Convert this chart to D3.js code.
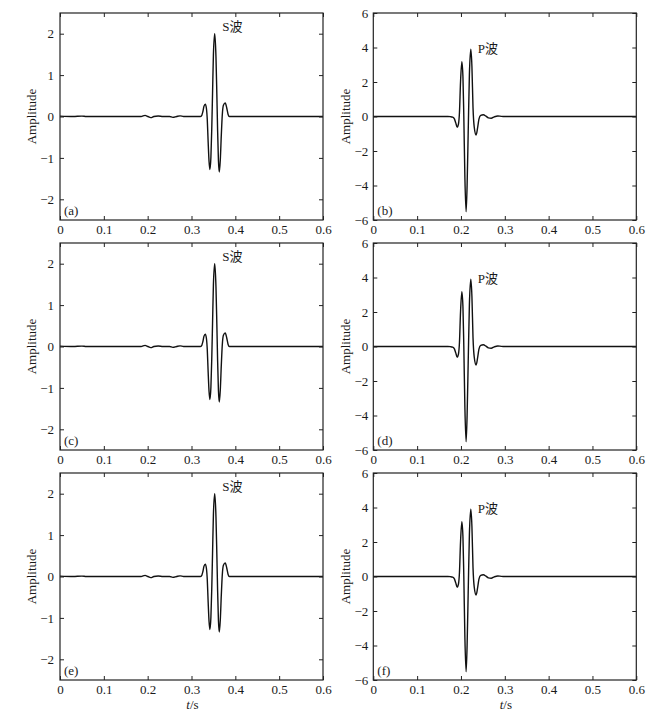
<!DOCTYPE html>
<html>
<head>
<meta charset="utf-8">
<script src="https://cdn.jsdelivr.net/npm/d3@7"></script>
<style>
  html, body { margin: 0; padding: 0; background: #ffffff; }
  svg { display: block; }
  text { font-family: "Liberation Serif", "Times New Roman", "Noto Sans CJK SC", serif; fill: #1a1a1a; }
</style>
</head>
<body>
<div id="chart"></div>
<script>
// ---- data ----
const xTicks = [0, 0.1, 0.2, 0.3, 0.4, 0.5, 0.6];
const sTicks = [-2, -1, 0, 1, 2];
const pTicks = [-6, -4, -2, 0, 2, 4, 6];
const panelLabels = ["(a)", "(b)", "(c)", "(d)", "(e)", "(f)"];
const waveNames = ["S波", "P波"];

// S-wave trace: time (s)
const sTime = [0, 0.03, 0.05, 0.06, 0.09, 0.15, 0.185, 0.194, 0.2005, 0.207, 0.214, 0.224, 0.235, 0.25, 0.2575, 0.266, 0.274, 0.282, 0.30, 0.316,
  0.320, 0.3235, 0.3260, 0.3285, 0.3315, 0.3340, 0.3360, 0.3380, 0.3400, 0.3420, 0.3443, 0.3462, 0.3480, 0.3500, 0.3530,
  0.3558, 0.3578, 0.3596, 0.3614, 0.3634, 0.3657, 0.3680, 0.3703, 0.3728, 0.3770, 0.3805, 0.3835, 0.3865, 0.390, 0.42, 0.5, 0.6];
// S-wave trace: amplitude
const sAmp = [0.01, 0.0, 0.01, 0.0, 0.0, 0.0, 0.0, 0.028, 0.0, -0.027, 0.0, 0.012, 0.0, 0.0, -0.02, 0.0, 0.015, 0.0, 0.0, 0.0,
  0.0, 0.03, 0.12, 0.25, 0.30, 0.20, -0.08, -0.62, -1.08, -1.28, -0.98, -0.30, 0.55, 1.50, 2.0,
  1.45, 0.55, -0.35, -1.05, -1.34, -1.05, -0.45, 0.05, 0.27, 0.33, 0.20, 0.05, 0.0, 0.0, 0.0, 0.0, 0.0];

// P-wave trace: time (s)
const pTime = [0, 0.1, 0.170, 0.176, 0.181, 0.1850, 0.1882, 0.1915, 0.1942, 0.1965, 0.1990, 0.2020, 0.2045, 0.2065, 0.2090, 0.2117,
  0.2140, 0.2165, 0.2192, 0.2224, 0.2250, 0.2275, 0.2302, 0.2346, 0.2380, 0.2410, 0.2450, 0.2510, 0.2570, 0.2625, 0.2690,
  0.2760, 0.2840, 0.2920, 0.300, 0.4, 0.6];
// P-wave trace: amplitude
const pAmp = [0, 0, 0, -0.01, -0.04, -0.14, -0.38, -0.62, -0.45, 0.2, 2.0, 3.18, 2.3, 0.0, -3.6, -5.52,
  -4.0, -0.9, 2.4, 3.9, 2.9, 0.5, -0.6, -1.07, -0.65, -0.15, 0.07, 0.1, 0.02, -0.08, -0.1,
  -0.02, 0.03, 0.01, 0, 0, 0];

// ---- layout ----
const W = 667, H = 713;
const colX = [60, 373.3];
const rowY = [13, 243, 473];
const pw = 263, ph = 207;

const svg = d3.select("#chart").append("svg").attr("width", W).attr("height", H);

const x = d3.scaleLinear().domain([0, 0.6]);
const yS = d3.scaleLinear().domain([-2.5, 2.5]);
const yP = d3.scaleLinear().domain([-6, 6]);

const fmtX = d => d === 0 ? "0" : d3.format(".1f")(d);

function drawPanel(ci, ri, idx) {
  const isS = ci === 0;
  const px = colX[ci], py = rowY[ri];
  const xs = x.copy().range([px, px + pw]);
  const ys = (isS ? yS : yP).copy().range([py + ph, py]);
  const yt = isS ? sTicks : pTicks;
  const g = svg.append("g");
  const tl = 4;

  // data line
  const times = isS ? sTime : pTime;
  const amps = isS ? sAmp : pAmp;
  const pts = times.map((t, i) => [t, amps[i]]);
  const line = d3.line().x(d => xs(d[0])).y(d => ys(d[1])).curve(d3.curveMonotoneX);
  g.append("path").datum(pts).attr("d", line)
    .attr("fill", "none").attr("stroke", "#111").attr("stroke-width", 1.4).attr("stroke-linejoin", "round");

  // axes with inward ticks on all sides
  const axB = d3.axisBottom(xs).tickValues(xTicks).tickSizeInner(-tl).tickSizeOuter(0).tickFormat(fmtX).tickPadding(5);
  const axT = d3.axisTop(xs).tickValues(xTicks).tickSizeInner(-tl).tickSizeOuter(0).tickFormat("");
  const axL = d3.axisLeft(ys).tickValues(yt).tickSizeInner(-tl).tickSizeOuter(0).tickFormat(d3.format("d")).tickPadding(isS ? 6 : 5);
  const axR = d3.axisRight(ys).tickValues(yt).tickSizeInner(-tl).tickSizeOuter(0).tickFormat("");

  const styleAxis = sel => {
    sel.select(".domain").remove();
    sel.selectAll("line").attr("stroke", "#222").attr("stroke-width", 1);
    sel.selectAll("text").attr("font-size", 13).style("font-family", '"Liberation Serif", serif').attr("fill", "#1a1a1a");
  };
  g.append("g").attr("transform", `translate(0,${py + ph})`).call(axB).call(styleAxis);
  g.append("g").attr("transform", `translate(0,${py})`).call(axT).call(styleAxis);
  g.append("g").attr("transform", `translate(${px},0)`).call(axL).call(styleAxis);
  g.append("g").attr("transform", `translate(${px + pw},0)`).call(axR).call(styleAxis);

  // frame
  g.append("rect").attr("x", px).attr("y", py).attr("width", pw).attr("height", ph)
    .attr("fill", "none").attr("stroke", "#222").attr("stroke-width", 1.2);

  // y label
  g.append("text")
    .attr("transform", `translate(${px - (isS ? 24 : 23)},${py + ph / 2}) rotate(-90)`)
    .attr("text-anchor", "middle").attr("font-size", 13).text("Amplitude");

  // panel label
  g.append("text").attr("x", px + 4).attr("y", py + ph - 5).attr("font-size", 13).text(panelLabels[idx]);

  // wave name
  if (isS) {
    g.append("text").attr("x", xs(0.370)).attr("y", ys(2.06)).attr("font-size", 13).text(waveNames[0]);
  } else {
    g.append("text").attr("x", xs(0.2385)).attr("y", ys(3.68)).attr("font-size", 13).text(waveNames[1]);
  }

  // x label on the bottom row
  if (ri === 2) {
    const t = g.append("text").attr("x", px + pw / 2 + 1).attr("y", py + ph + 29)
      .attr("text-anchor", "middle").attr("font-size", 13);
    t.append("tspan").attr("font-style", "italic").text("t");
    t.append("tspan").text("/s");
  }
}

let k = 0;
for (let r = 0; r < 3; r++) {
  for (let c = 0; c < 2; c++) {
    drawPanel(c, r, k++);
  }
}
</script>
</body>
</html>
